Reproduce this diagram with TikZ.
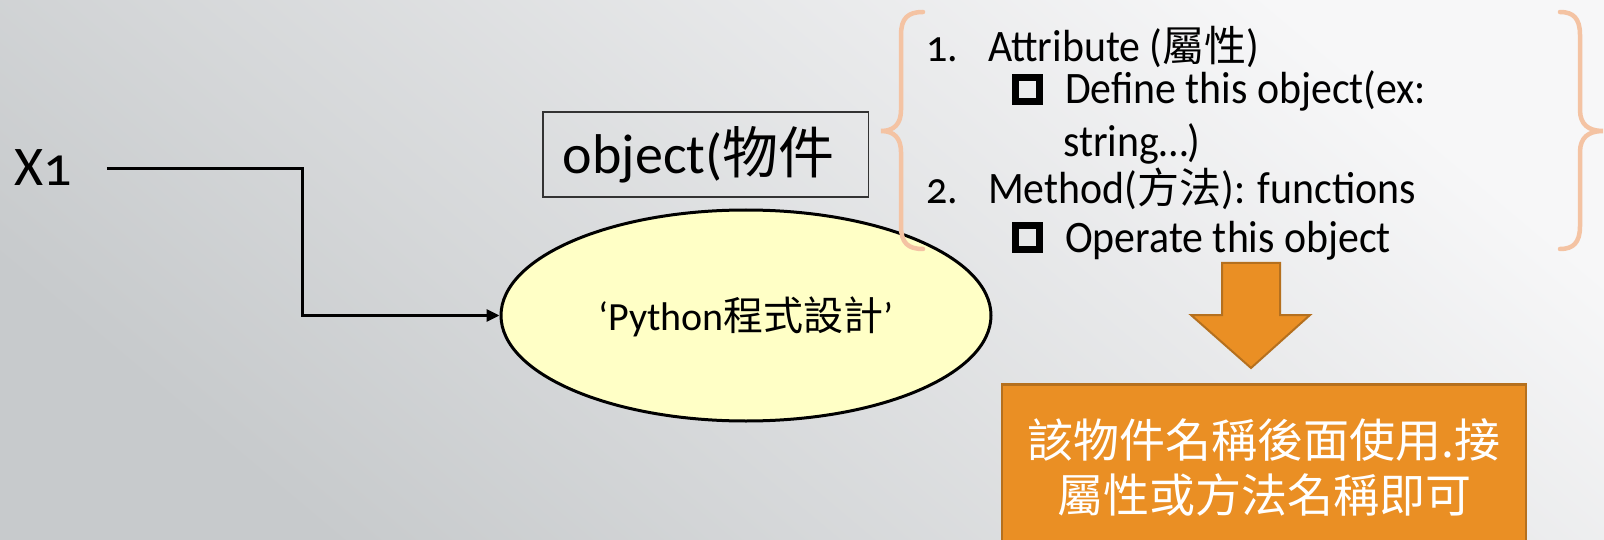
\documentclass[tikz,border=0pt]{standalone}
\usepackage{fontspec}
\setmainfont{Carlito}[Numbers=OldStyle]
\newfontfamily\cjk{Noto Sans CJK TC}
\newcommand\lcjk[1]{{\cjk\fontsize{42}{50}\selectfont #1}}
\usetikzlibrary{shapes.geometric,arrows.meta,calc}

\definecolor{bgtop}{HTML}{F7F7F8}
\definecolor{bgbot}{HTML}{C7CACC}
\definecolor{ellfill}{HTML}{FFFFC6}
\definecolor{bracecol}{HTML}{F4C3A3}
\definecolor{orangefill}{HTML}{EA8F24}
\definecolor{orangeline}{HTML}{B5701E}
\definecolor{boxline}{HTML}{333333}

\begin{document}
\begin{tikzpicture}[x=1pt,y=-1pt,
  conn/.style={line width=3pt, black, -{Triangle[length=13pt,width=12pt]}},
  lbl/.style={inner sep=0pt, anchor=base west, font=\fontsize{56}{60}\selectfont},
  objbox/.style={draw=boxline, line width=1.8pt, inner xsep=20pt, inner ysep=10pt,
    text height=52pt, text depth=13pt, font=\fontsize{56}{60}\selectfont},
  ellnode/.style={ellipse, draw=black, line width=3pt, fill=ellfill,
    minimum width=490pt, minimum height=211pt, inner sep=0pt,
    text height=40pt, text depth=10pt, font=\fontsize{40}{44}\selectfont},
  listtxt/.style={inner sep=0pt, anchor=base west,
    font=\fontsize{45}{50}\selectfont\addfontfeature{FakeStretch=0.93}},
  sqbullet/.style={draw=black, line width=7pt, minimum size=24pt, inner sep=0pt},
  brace/.style={draw=bracecol, line width=4.5pt, line cap=round},
  blockarrow/.style={fill=orangefill, draw=orangeline, line width=2pt, line join=miter},
  usebox/.style={fill=orangefill, draw=orangeline, line width=2.5pt, text=white,
    minimum width=524pt, align=center, inner ysep=34pt,
    font=\cjk\fontsize{46}{55}\selectfont}
]
\useasboundingbox (0,0) rectangle (1604,540);
\clip (0,0) rectangle (1604,540);

% backdrop
\shade[top color=bgtop, bottom color=bgbot, shading angle=-40] (0,0) rectangle (1604,540);

% input variable and the object it refers to
\node[lbl] (x1) at (14,186) {X1};
\node[objbox, anchor=west] (obj) at (542,154.5) {object({\cjk 物件}\hspace*{14pt}};
\node[ellnode] (ell) at (746,315.5) {‘Python{\cjk 程式設計}’};
\draw[conn] ([xshift=35pt]x1.east) -| ([xshift=-197pt]ell.west) -- (ell.west);

% attribute / method list
\node[listtxt] (n1) at (926,62) {1.};
\node[listtxt] (t1) at (988,62) {Attribute (\lcjk{屬性})};
\node[sqbullet] (b1) at (1027.5,89.5) {};
\node[listtxt] (t2) at (1065,104) {Define this object(ex:};
\node[listtxt] (t3) at (1063,157) {string…)};
\node[listtxt] (n2) at (926,204) {2.};
\node[listtxt] (t4) at (988,204) {Method(\lcjk{方法}): functions};
\node[sqbullet] (b2) at (1027.5,238) {};
\node[listtxt] (t5) at (1065,253) {Operate this object};

% braces around the list
\draw[brace] (923,12) .. controls (908,12) and (901,18) .. (901,35) -- (901,110)
  .. controls (901,124) and (894,131) .. (881,131)
  .. controls (894,131) and (901,138) .. (901,152) -- (901,226)
  .. controls (901,243) and (908,249) .. (923,249);
\draw[brace] (1560,12) .. controls (1573,12) and (1580,18) .. (1580,35) -- (1580,110)
  .. controls (1580,124) and (1588,131) .. (1603,131)
  .. controls (1588,131) and (1580,138) .. (1580,152) -- (1580,226)
  .. controls (1580,243) and (1573,249) .. (1560,249);

% block arrow and conclusion box
\draw[blockarrow] (1222,263) -- (1280,263) -- (1280,315) -- (1310,315)
  -- (1251,368) -- (1191,315) -- (1222,315) -- cycle;
\node[usebox, anchor=north] (use) at (1264,383) {該物件名稱後面使用.接\\屬性或方法名稱即可};
\end{tikzpicture}
\end{document}
